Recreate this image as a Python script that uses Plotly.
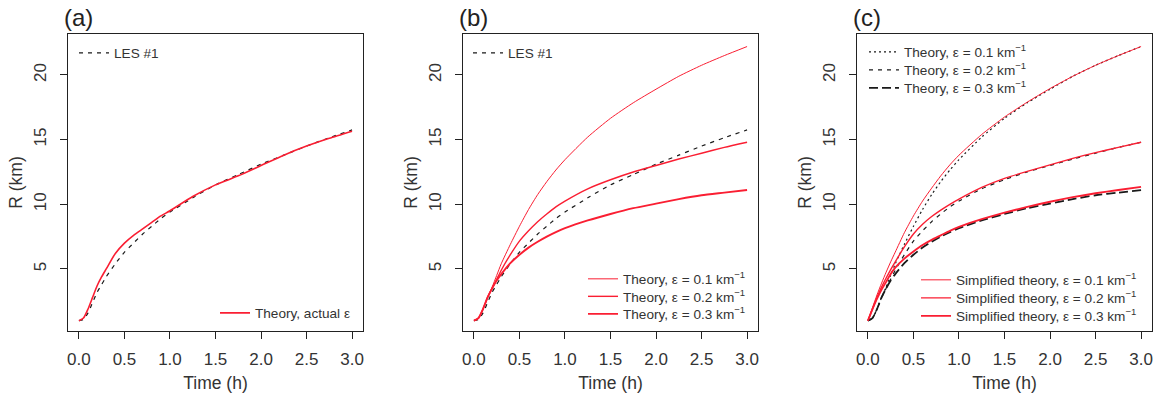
import plotly.graph_objects as go

# ---------------- data ----------------
time_h = [0.0, 0.05, 0.1, 0.15, 0.2, 0.25, 0.3, 0.4, 0.5, 0.6, 0.7, 0.8, 0.9, 1.0,
          1.25, 1.5, 1.75, 2.0, 2.25, 2.5, 2.75, 3.0]

les1 = [1.0, 1.1, 1.6, 2.4, 3.2, 3.8, 4.4, 5.4, 6.3, 7.0, 7.7, 8.3, 8.9, 9.4,
        10.5, 11.5, 12.3, 13.1, 13.8, 14.5, 15.15, 15.75]

theory_actual = [1.0, 1.2, 1.9, 2.8, 3.7, 4.4, 5.0, 6.2, 7.0, 7.6, 8.1, 8.6, 9.1, 9.5,
                 10.6, 11.5, 12.2, 13.0, 13.8, 14.5, 15.1, 15.65]

theory_e01 = [1.0, 1.2, 1.9, 2.8, 3.6, 4.5, 5.4, 6.9, 8.3, 9.6, 10.75, 11.75, 12.65, 13.45,
              15.2, 16.65, 17.85, 18.9, 19.9, 20.75, 21.5, 22.2]
theory_e02 = [1.0, 1.2, 1.9, 2.8, 3.5, 4.2, 4.9, 6.1, 7.15, 7.95, 8.65, 9.25, 9.8, 10.25,
              11.2, 11.9, 12.5, 13.0, 13.5, 13.95, 14.4, 14.8]
theory_e03 = [1.0, 1.2, 1.9, 2.8, 3.5, 4.1, 4.6, 5.45, 6.1, 6.65, 7.1, 7.5, 7.85, 8.15,
              8.75, 9.25, 9.7, 10.05, 10.4, 10.7, 10.9, 11.1]

simple_e01 = [1.0, 2.0, 3.0, 3.9, 4.75, 5.55, 6.3, 7.8, 9.1, 10.25, 11.25, 12.2, 13.05, 13.8,
              15.4, 16.75, 17.9, 18.95, 19.9, 20.75, 21.5, 22.2]
simple_e02 = [1.0, 1.9, 2.8, 3.6, 4.3, 4.95, 5.55, 6.7, 7.7, 8.45, 9.05, 9.55, 10.0, 10.4,
              11.3, 12.0, 12.55, 13.05, 13.55, 14.0, 14.4, 14.8]
simple_e03 = [1.0, 1.9, 2.7, 3.4, 4.0, 4.6, 5.1, 5.8, 6.35, 6.85, 7.25, 7.6, 7.95, 8.25,
              8.85, 9.35, 9.8, 10.2, 10.55, 10.85, 11.1, 11.35]

x_ticks = [0.0, 0.5, 1.0, 1.5, 2.0, 2.5, 3.0]
x_tick_labels = ["0.0", "0.5", "1.0", "1.5", "2.0", "2.5", "3.0"]
y_ticks = [5, 10, 15, 20]
panel_labels = ["(a)", "(b)", "(c)"]

KM = "km<sup>−1</sup>"
lbl_les = "LES #1"
lbl_actual = "Theory, actual ε"
lbl_theory = [f"Theory, ε = 0.1 {KM}", f"Theory, ε = 0.2 {KM}", f"Theory, ε = 0.3 {KM}"]
lbl_simple = [f"Simplified theory, ε = 0.1 {KM}", f"Simplified theory, ε = 0.2 {KM}",
              f"Simplified theory, ε = 0.3 {KM}"]

# ---------------- styling ----------------
RED = "#fa1e32"
BLACK = "#1a1a1a"
FONT = "Liberation Sans, Arial, Helvetica, sans-serif"
TXT = "#333333"
red_widths = [1.0, 1.4, 1.9]
W, H = 1160, 397

def px_x(p):
    return p / W

def px_y(p):
    return (H - p) / H

leg_common = dict(bgcolor="rgba(0,0,0,0)", borderwidth=0, itemwidth=30,
                  font=dict(family=FONT, size=13.6, color=TXT), tracegroupgap=0,
                  traceorder="normal", itemclick=False, xanchor="left", yanchor="middle")

fig = go.Figure()
legends = {}
leg_count = [0]

def add(xref, yref, y, name, color, width, dash, leg_left, leg_row_y):
    leg_count[0] += 1
    key = "legend" if leg_count[0] == 1 else f"legend{leg_count[0]}"
    legends[key] = dict(leg_common, x=px_x(leg_left), y=px_y(leg_row_y))
    fig.add_trace(go.Scatter(
        x=time_h, y=y, name=name, mode="lines",
        line=dict(color=color, width=width, dash=dash, shape="spline", smoothing=0.6),
        xaxis=xref, yaxis=yref, legend=key, showlegend=True))

# panel (a)
add("x", "y", les1, lbl_les, BLACK, 1.2, "4px,5px", 74, 53)
add("x", "y", theory_actual, lbl_actual, RED, 1.6, "solid", 215, 313)
# panel (b)
add("x2", "y2", les1, lbl_les, BLACK, 1.2, "4px,5px", 468, 53)
for yv, nm, w, ry in zip([theory_e01, theory_e02, theory_e03], lbl_theory, red_widths,
                         [279, 296.5, 314]):
    add("x2", "y2", yv, nm, RED, w, "solid", 583, ry)
# panel (c)
black_styles = [("2px,3px", 1.2), ("4px,5px", 1.2), ("9px,4px", 1.8)]
for yv, nm, (d, w), ry in zip([theory_e01, theory_e02, theory_e03], lbl_theory, black_styles,
                              [52, 70, 88]):
    add("x3", "y3", yv, nm, BLACK, w, d, 864, ry)
for yv, nm, w, ry in zip([simple_e01, simple_e02, simple_e03], lbl_simple, red_widths,
                         [280, 298, 316]):
    add("x3", "y3", yv, nm, RED, w, "solid", 916, ry)

# geometry in pixels
box_left = [68, 463, 857]
box_w = 295
box_top, box_bot = 34, 331
ydom = [(H - box_bot) / H, (H - box_top) / H]

axis_common = dict(showline=True, linecolor="#222222", linewidth=1, mirror=True,
                   ticks="outside", ticklen=7, tickwidth=1, tickcolor="#222222",
                   showgrid=False, zeroline=False, automargin=False,
                   tickfont=dict(family=FONT, size=17, color=TXT))

layout = dict(width=W, height=H, margin=dict(l=0, r=0, t=0, b=0, autoexpand=False),
              paper_bgcolor="white", plot_bgcolor="white",
              font=dict(family=FONT, size=12, color=TXT))
layout.update(legends)

for i in range(3):
    sfx = "" if i == 0 else str(i + 1)
    layout["xaxis" + sfx] = dict(axis_common, domain=[box_left[i] / W, (box_left[i] + box_w) / W],
                                 range=[-0.12, 3.12], tickvals=x_ticks, ticktext=x_tick_labels,
                                 anchor="y" + sfx, ticklabelstandoff=6,
                                 title=dict(text="Time (h)", font=dict(family=FONT, size=17.5, color=TXT),
                                            standoff=8))
    layout["yaxis" + sfx] = dict(axis_common, domain=ydom, range=[0.2, 23.17], tickvals=y_ticks,
                                 tickangle=-90, anchor="x" + sfx, ticklabelstandoff=7,
                                 title=dict(text="R (km)", font=dict(family=FONT, size=17.5, color=TXT),
                                            standoff=4))

annotations = []
for i, lab in enumerate(panel_labels):
    annotations.append(dict(text=lab, x=px_x(box_left[i] - 6), y=px_y(18), xref="paper", yref="paper",
                            xanchor="left", yanchor="middle", showarrow=False,
                            font=dict(family=FONT, size=24, color="#222222")))
layout["annotations"] = annotations

fig.update_layout(**layout)
fig.write_html("out.html", config={"displayModeBar": False},
               post_script="document.body.style.margin='0';document.body.style.padding='0';")
